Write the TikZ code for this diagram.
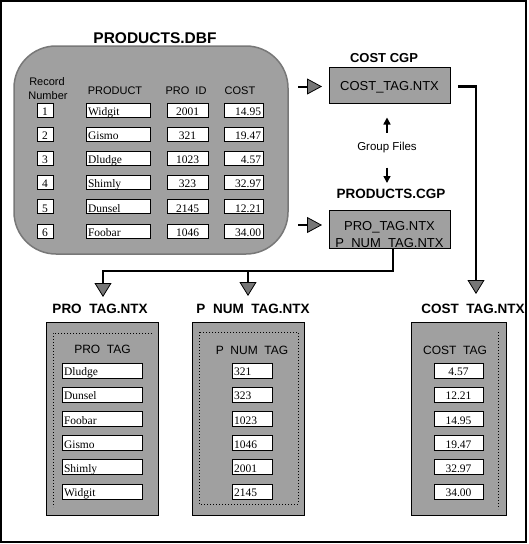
\documentclass[tikz,border=0pt]{standalone}
\usepackage{fontspec}
\setmainfont{Liberation Sans}
\newfontfamily\serifv{Liberation Serif}
\usetikzlibrary{arrows.meta}
\definecolor{boxgray}{RGB}{160,160,160}
\definecolor{edgegray}{RGB}{120,120,120}
\definecolor{tipgray}{RGB}{118,118,118}
\newcommand\ugap{\phantom{\_}}
\tikzset{
  every node/.style={inner sep=0pt, outer sep=0pt},
  cell/.style={draw=black, fill=white, line width=0.8pt, anchor=north west,
    inner xsep=2pt, inner ysep=0pt, text height=11pt, text depth=0.5pt,
    font=\serifv\fontsize{11.5}{12}\selectfont},
  graybox/.style={draw=black, fill=boxgray, line width=0.8pt, anchor=north west},
  lblbold/.style={font=\bfseries\fontsize{13.5}{14}\selectfont, anchor=base},
  hdr/.style={font=\fontsize{11}{12}\selectfont, anchor=base},
  innerhdr/.style={font=\fontsize{12}{13}\selectfont, anchor=base},
  boxtext/.style={font=\fontsize{13}{14}\selectfont, anchor=base},
  conn/.style={line width=2.5pt, line join=miter,
    -{Triangle[length=14pt,width=17pt,fill=tipgray,line width=0.8pt]}},
  inarr/.style={line width=2pt,
    -{Triangle[length=15pt,width=16pt,fill=tipgray,line width=0.8pt]}},
  smallarr/.style={line width=1.5pt, -{Triangle[length=7pt,width=7pt]}},
  dotline/.style={line width=1pt, dash pattern=on 1pt off 2pt}
}
\begin{document}
\begin{tikzpicture}[x=1pt,y=-1pt]
\useasboundingbox (0,0) rectangle (528,544);
\draw[line width=2pt] (1,1) rectangle (526,542);

% ---------------- PRODUCTS.DBF ----------------
\node[lblbold, font=\bfseries\fontsize{15.5}{16}\selectfont] (dbflbl) at (155,43) {PRODUCTS.DBF};
\node[draw=edgegray, fill=boxgray, line width=1.5pt, rounded corners=42pt,
      minimum width=274pt, minimum height=208pt, anchor=north west] (dbf) at (14,46) {};
\node[hdr] (hrec) at (47,85) {Record};
\node[hdr] (hnum) at (48,99.5) {Number};
\node[hdr] (hprod) at (115,94) {PRODUCT};
\node[hdr] (hid) at (186,94) {PRO\ugap ID};
\node[hdr] (hcost) at (240,94) {COST};

\foreach \i/\p/\id/\c in {1/Widgit/2001/14.95, 2/Gismo/321/19.47, 3/Dludge/1023/4.57,
                          4/Shimly/323/32.97, 5/Dunsel/2145/12.21, 6/Foobar/1046/34.00}{
  \pgfmathsetmacro\yy{103+24.2*(\i-1)}
  \node[cell, minimum height=14pt, text width=12pt, align=center] (rec\i) at (37,\yy) {\i};
  \node[cell, minimum height=14pt, text width=60pt, align=left] (prod\i) at (86,\yy) {\p};
  \node[cell, minimum height=14pt, text width=37pt, align=center] (pid\i) at (167,\yy) {\id};
  \node[cell, minimum height=14pt, text width=35pt, align=right] (cost\i) at (224,\yy) {\c};
}

% ---------------- right column ----------------
\node[lblbold, font=\bfseries\fontsize{13}{14}\selectfont] (cgplbl) at (384,62) {COST CGP};
\node[graybox, minimum width=121pt, minimum height=36pt] (costbox) at (329,67) {};
\node[boxtext] (costtxt) at (389.5,90) {COST\_TAG.NTX};

\node[font=\fontsize{11.5}{12}\selectfont] (grp) at (387,147.5) {Group Files};
\draw[smallarr] ([yshift=-20pt]grp.center) -- ([yshift=-35.5pt]grp.center);
\draw[smallarr] ([yshift=15pt]grp.center) -- ([yshift=30pt]grp.center);

\node[lblbold] (pcglbl) at (391,198) {PRODUCTS.CGP};
\node[graybox, minimum width=121pt, minimum height=38pt] (pcg) at (329,210) {};
\node[boxtext] (pcgt1) at (389.5,230) {PRO\_TAG.NTX};
\node[boxtext] (pcgt2) at (389.5,247) {P\ugap NUM\ugap TAG.NTX};

\draw[inarr] ([xshift=-31pt,yshift=-1.5pt]costbox.west) -- ([xshift=-7pt,yshift=-1.5pt]costbox.west);
\draw[inarr] ([xshift=-31pt,yshift=4pt]pcg.west) -- ([xshift=-7pt,yshift=4pt]pcg.west);

% ---------------- connectors ----------------
\coordinate (tipPRO) at (103,297);
\coordinate (tipPNUM) at (248,296);
\coordinate (tipCOST) at (476,294);
\coordinate (jn) at ([xshift=3.5pt,yshift=-23pt]pcg.south);
\draw[conn] ([xshift=3.5pt]pcg.south) -- (jn) -| (tipPRO);
\draw[conn] (tipPNUM |- jn) -- (tipPNUM);
\draw[conn] ([xshift=8pt,yshift=-1.5pt]costbox.east) -| (tipCOST);

% ---------------- PRO_TAG.NTX ----------------
\node[lblbold] (prolbl) at (100,313) {PRO\ugap TAG.NTX};
\node[graybox, minimum width=112pt, minimum height=193pt] (probox) at (46,322) {};
\draw[dotline] (152,333) -- (53,333) -- (53,507);
\node[innerhdr] (prohdr) at (102.5,353) {PRO\ugap TAG};

% ---------------- P_NUM_TAG.NTX ----------------
\node[lblbold] (pnumlbl) at (253,313) {P\ugap NUM\ugap TAG.NTX};
\node[graybox, minimum width=112pt, minimum height=193pt] (pnumbox) at (192,322) {};
\draw[dotline] (199,332) rectangle (298,504);
\node[innerhdr] (pnumhdr) at (252,354) {P\ugap NUM\ugap TAG};

% ---------------- COST_TAG.NTX ----------------
\node[lblbold] (costlbl) at (473,313) {COST\ugap TAG.NTX};
\node[graybox, minimum width=95pt, minimum height=193pt] (ctbox) at (411,322) {};
\draw[dotline] (498,332) -- (498,509);
\node[innerhdr] (cthdr) at (455,354) {COST\ugap TAG};

\foreach \i/\p/\n/\c in {1/Dludge/321/4.57, 2/Dunsel/323/12.21, 3/Foobar/1023/14.95,
                         4/Gismo/1046/19.47, 5/Shimly/2001/32.97, 6/Widgit/2145/34.00}{
  \pgfmathsetmacro\yy{363+24.2*(\i-1)}
  \node[cell, minimum height=15pt, text width=76pt, align=left] (pt\i) at (62,\yy) {\p};
  \node[cell, minimum height=15pt, text width=36pt, align=left] (pn\i) at (232,\yy) {\n};
  \node[cell, minimum height=15pt, text width=45pt, align=center] (ct\i) at (434,\yy) {\c};
}
\end{tikzpicture}
\end{document}
